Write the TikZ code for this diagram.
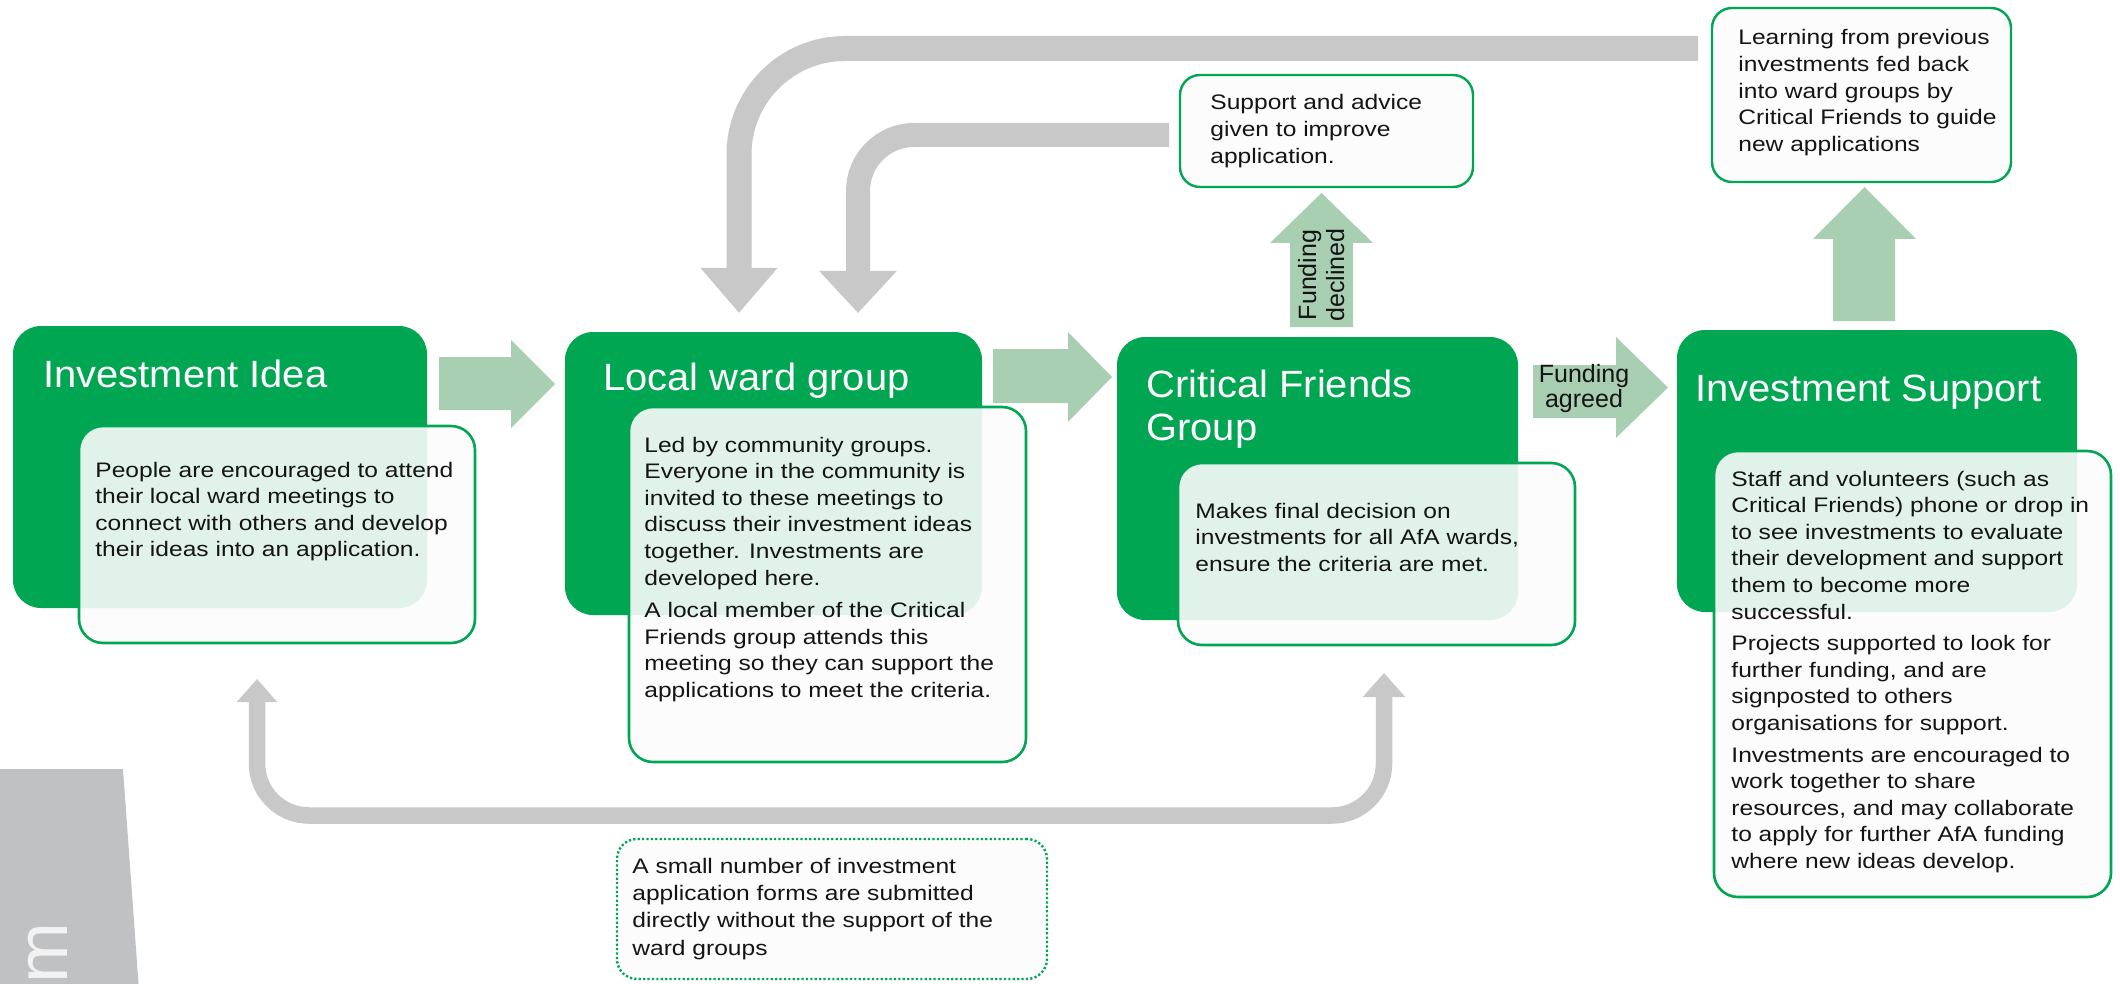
\documentclass[tikz,border=0pt]{standalone}
\usepackage{fontspec}
\setmainfont{Liberation Sans}[FakeStretch=1.17]
\newfontfamily\headfont{Liberation Sans}[FakeStretch=1.05]
\newfontfamily\plainfont{Liberation Sans}
\usetikzlibrary{arrows.meta,fit}

\definecolor{afagreen}{HTML}{00A651}
\definecolor{paleflow}{HTML}{A9CFB3}
\definecolor{loopgrey}{HTML}{C8C8C8}
\definecolor{tabgrey}{HTML}{C0C1C3}
\definecolor{tabword}{HTML}{F2F2F2}
\definecolor{notefill}{HTML}{FCFCFC}
\definecolor{inkblack}{HTML}{141414}

% text blocks whose node baseline is the baseline of the first line
\newcommand\notelines[1]{\parbox[t]{240pt}{#1}}
\newcommand\centrelines[1]{\parbox[t]{70pt}{\centering #1}}

\tikzset{
  stagebox/.style={fill=afagreen, rounded corners=14pt, inner sep=0pt},
  notebox/.style={draw=afagreen, line width=1.3pt, fill=notefill, fill opacity=0.89,
                  rounded corners=12pt, inner sep=0pt},
  sidebox/.style={draw=afagreen, line width=1.2pt, fill=notefill,
                  rounded corners=10pt, inner sep=0pt},
  directbox/.style={draw=afagreen, line width=1.2pt, dash pattern=on 1.1pt off 1.1pt,
                  fill=notefill, rounded corners=10pt, inner sep=0pt},
  headtext/.style={anchor=base west, inner sep=0pt, text=white,
                  font=\headfont\fontsize{19pt}{21.5pt}\selectfont},
  bodytext/.style={anchor=base west, inner sep=0pt, text=inkblack,
                  font=\fontsize{10.5pt}{13.3pt}\selectfont},
  flowlabel/.style={anchor=base, inner sep=0pt, text=inkblack,
                  font=\plainfont\fontsize{12.5pt}{11pt}\selectfont},
  flowarrow/.style={fill=paleflow},
  loopline/.style={draw=loopgrey, line cap=butt},
}

\begin{document}
\begin{tikzpicture}[x=0.5pt,y=-0.5pt]
\useasboundingbox (0,0) rectangle (2120,984);

% side tab with cut-off vertical title
\fill[tabgrey] (0,769) -- (123,769) -- (139,990) -- (0,990) -- cycle;
\node[rotate=90, anchor=base east, inner sep=0pt, text=tabword,
      font=\plainfont\fontsize{36.5pt}{40pt}\selectfont] (tabtitle) at (67,922) {m};

% feedback loops
\coordinate (learnfeed) at (1698,48.5);
\coordinate (wardinA) at (739,313);
\coordinate (advicefeed) at (1169,135);
\coordinate (wardinB) at (858,313);
\coordinate (ideaback) at (257,679);
\coordinate (cfback) at (1384,673);

\draw[loopline, line width=12.5pt, rounded corners=53pt,
      -{Triangle[width=37pt,length=22.5pt]}] (learnfeed) -| (wardinA);
\draw[loopline, line width=12pt, rounded corners=28pt,
      -{Triangle[width=37.5pt,length=21pt]}] (advicefeed) -| (wardinB);
\draw[loopline, line width=8.25pt, rounded corners=26pt,
      {Triangle[width=19.5pt,length=11.5pt]}-{Triangle[width=20.5pt,length=12pt]}]
      (ideaback) -- (257,815.5) -- (1384,815.5) -- (cfback);

% forward block arrows
\fill[flowarrow] (439,357) -- (511,357) -- (511,340) -- (555,384) -- (511,428) -- (511,410) -- (439,410) -- cycle;
\fill[flowarrow] (993,349) -- (1068,349) -- (1068,332) -- (1112,377) -- (1068,422) -- (1068,403) -- (993,403) -- cycle;
\fill[flowarrow] (1533,365) -- (1616,365) -- (1616,337) -- (1668,387.5) -- (1616,438) -- (1616,418) -- (1533,418) -- cycle;
\fill[flowarrow] (1290,327) -- (1290,243) -- (1270,243) -- (1321.5,193) -- (1373,243) -- (1353,243) -- (1353,327) -- cycle;
\fill[flowarrow] (1833,321) -- (1833,239) -- (1813,239) -- (1864.5,187) -- (1916,239) -- (1895,239) -- (1895,321) -- cycle;

\node[flowlabel] (agreed) at (1584,382) {\centrelines{Funding\\agreed}};
\node[flowlabel, rotate=90, font=\plainfont\fontsize{12.5pt}{14pt}\selectfont]
      (declined) at (1316,275) {\centrelines{Funding\\declined}};

% stage boxes
\node[stagebox, fit={(13,326) (427,608)}] (idea) {};
\node[stagebox, fit={(565,332) (982,615)}] (ward) {};
\node[stagebox, fit={(1117,337) (1518,620)}] (critical) {};
\node[stagebox, fit={(1677,330) (2077,612)}] (support) {};

\node[headtext] (ideahead) at (43,387) {Investment Idea};
\node[headtext] (wardhead) at (603,390) {Local ward group};
\node[headtext] (criticalhead) at (1146,397) {\notelines{Critical Friends\\Group}};
\node[headtext] (supporthead) at (1695,401) {Investment Support};

% description cards
\node[notebox, fit={(79,426) (475,643)}] (ideanote) {};
\node[notebox, fit={(629,407) (1026,762)}] (wardnote) {};
\node[notebox, fit={(1178,463) (1575,645)}] (criticalnote) {};
\node[notebox, fit={(1714,451) (2111,897)}] (supportnote) {};

\node[bodytext] (ideatext) at (95,477) {\notelines{%
People are encouraged to attend\\
their local ward meetings to\\
connect with others and develop\\
their ideas into an application.}};

\node[bodytext] (wardtext) at (644,452) {\notelines{%
Led by community groups.\\
Everyone in the community is\\
invited to these meetings to\\
discuss their investment ideas\\
together. Investments are\\
developed here.\\[3pt]
A local member of the Critical\\
Friends group attends this\\
meeting so they can support the\\
applications to meet the criteria.}};

\node[bodytext] (criticaltext) at (1195,518) {\notelines{%
Makes final decision on\\
investments for all AfA wards,\\
ensure the criteria are met.}};

\node[bodytext] (supporttext) at (1731,486) {\notelines{%
Staff and volunteers (such as\\
Critical Friends) phone or drop in\\
to see investments to evaluate\\
their development and support\\
them to become more\\
successful.\\[2.5pt]
Projects supported to look for\\
further funding, and are\\
signposted to others\\
organisations for support.\\[2.5pt]
Investments are encouraged to\\
work together to share\\
resources, and may collaborate\\
to apply for further AfA funding\\
where new ideas develop.}};

% outcome boxes
\node[sidebox, fit={(1180,75) (1473,187)}] (advice) {};
\node[bodytext] (advicetext) at (1210,110) {\notelines{%
Support and advice\\
given to improve\\
application.}};

\node[sidebox, fit={(1712,8) (2011,182)}] (learning) {};
\node[bodytext] (learningtext) at (1738,45) {\notelines{%
Learning from previous\\
investments fed back\\
into ward groups by\\
Critical Friends to guide\\
new applications}};

\node[directbox, fit={(617,839) (1047,979)}] (direct) {};
\node[bodytext, font=\fontsize{10.5pt}{13.7pt}\selectfont] (directtext) at (632,873) {\notelines{%
A small number of investment\\
application forms are submitted\\
directly without the support of the\\
ward groups}};

\end{tikzpicture}
\end{document}
